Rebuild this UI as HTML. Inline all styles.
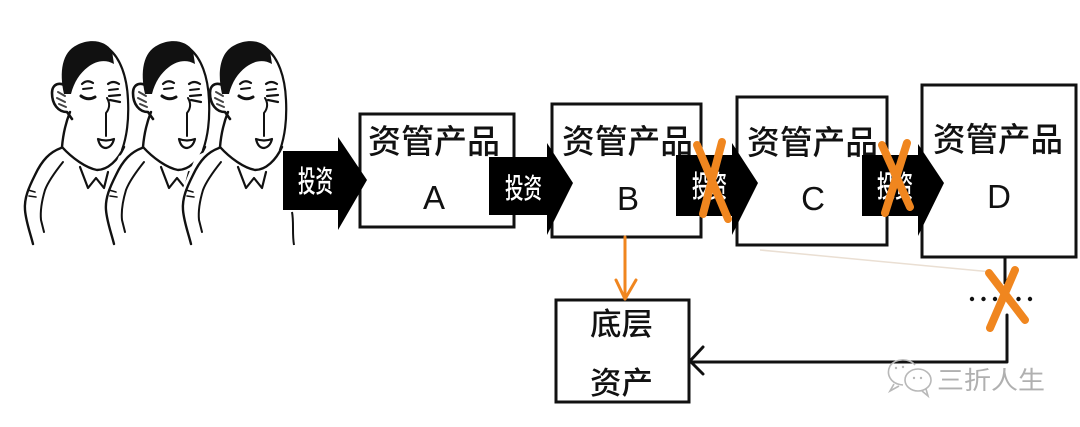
<!DOCTYPE html>
<html>
<head>
<meta charset="utf-8">
<style>
html,body{margin:0;padding:0;background:#fff;}
svg{display:block;}
.cjk{font-family:"Liberation Sans","Noto Sans CJK SC",sans-serif;font-weight:500;}
</style>
</head>
<body>
<svg width="1080" height="427" viewBox="0 0 1080 427" xmlns="http://www.w3.org/2000/svg">
<rect width="1080" height="427" fill="#fff"/>
<defs>
<g id="person">
  <!-- white silhouette -->
  <path d="M53,86 L62,46 L110,40 L130,95 L128,145 L152,160 L152,246 L30,246 L20,200 L38,156 L60,146 Z" fill="#fff"/>
  <!-- hair -->
  <path d="M64,94 C59,72 62,52 77,45 C91,38 106,41 112,51 L114,64 C105,59 96,61 88,67 C80,73 74,82 71,94 Z" fill="#111"/>
  <g fill="none" stroke="#111" stroke-linecap="round" stroke-linejoin="round">
    <!-- head right -->
    <path d="M109,49 C120,58 127,76 128,100 C129,120 127,136 122,150" stroke-width="2.2"/>
    <!-- chin -->
    <path d="M62,147 C72,158 86,168 97,170 C108,170 118,160 124,147" stroke-width="2.4"/>
    <!-- left face behind ear -->
    <path d="M70,112 C66,122 63,135 62,147" stroke-width="2.4"/>
    <!-- ear -->
    <path d="M68,88 C61,81 52,83 52,93 C52,104 58,112 67,112 L72,119" stroke-width="2.6"/>
    <path d="M58,92 L65,96 M57,98 L65,102 M59,104 L66,107" stroke-width="2" stroke="#444"/>
    <!-- left eye -->
    <path d="M82,84 Q87,79 93,83" stroke-width="2.2"/>
    <path d="M83,89 L92,88" stroke-width="2"/>
    <path d="M81,96 Q88,101 95,97" stroke-width="3"/>
    <!-- right eye -->
    <path d="M108,84 Q113,80 119,84" stroke-width="2.2"/>
    <path d="M109,90 L118,89" stroke-width="2"/>
    <path d="M109,96 L120,95 M110,100 L120,102" stroke-width="2.2"/>
    <!-- nose -->
    <path d="M107,98 C110,103 110,108 106,113 L106,136" stroke-width="2"/>
    <!-- mouth -->
    <path d="M98,139 Q100,148 106,148 Q112,147 114,139 Q106,142 98,139 Z" stroke-width="2.2"/>
    <!-- sleeve / arm -->
    <path d="M61,148 C50,152 42,160 35,175 C29,187 24,198 25,210 C26,222 30,232 33,244" stroke-width="2.4"/>
    <path d="M63,162 C55,172 48,182 45,190 C42,200 40,210 41,220 L44,232" stroke-width="2"/>
    <path d="M28,190 L35,192 M29,196 L36,197" stroke-width="1.6"/>
    <!-- collar -->
    <path d="M80,167 L88,188 L96,178 L104,188 L108,172" stroke-width="2.2"/>
  </g>
</g>
</defs>

<!-- people -->
<use href="#person" x="0" y="0"/>
<use href="#person" x="81" y="0"/>
<use href="#person" x="158" y="0"/>
<path d="M292,212 C294,222 292,234 294,245" fill="none" stroke="#111" stroke-width="2"/>

<!-- boxes -->
<g fill="none" stroke="#111" stroke-width="3">
  <rect x="360" y="114" width="154" height="113"/>
  <rect x="552" y="104" width="149" height="133"/>
  <rect x="737" y="97" width="150" height="148"/>
  <rect x="922" y="85" width="154" height="172"/>
  <rect x="556" y="300" width="133" height="102"/>
</g>

<!-- box text -->
<g class="cjk" fill="#111" font-size="33">
  <text x="368" y="153" textLength="132" lengthAdjust="spacingAndGlyphs">资管产品</text>
  <text x="562" y="153" textLength="131" lengthAdjust="spacingAndGlyphs">资管产品</text>
  <text x="747" y="154" textLength="131" lengthAdjust="spacingAndGlyphs">资管产品</text>
  <text x="933" y="151" textLength="130" lengthAdjust="spacingAndGlyphs">资管产品</text>
</g>
<g font-family="'Liberation Sans',sans-serif" fill="#111" font-size="33" text-anchor="middle">
  <text x="434" y="209">A</text>
  <text x="628" y="210">B</text>
  <text x="813" y="210">C</text>
  <text x="999" y="208">D</text>
</g>
<g class="cjk" fill="#111" font-size="31">
  <text x="590" y="335" textLength="63" lengthAdjust="spacingAndGlyphs">底层</text>
  <text x="590" y="394" textLength="63" lengthAdjust="spacingAndGlyphs">资产</text>
</g>

<!-- arrows -->
<g fill="#000">
  <path d="M283,151 H338 V137 L367,180 L338,230 V210 H283 Z"/>
  <path d="M489,157 H547 V143 L573,183 L547,235 V215 H489 Z"/>
  <path d="M676,155 H732 V143 L758,183 L732,235 V216 H676 Z"/>
  <path d="M862,155 H918 V144 L944,183 L918,236 V216 H862 Z"/>
</g>
<g class="cjk" fill="#fff" font-size="30">
  <text x="298" y="192" textLength="35" lengthAdjust="spacingAndGlyphs">投资</text>
  <text x="505" y="198" textLength="37" lengthAdjust="spacingAndGlyphs" font-size="28">投资</text>
  <text x="692" y="197" textLength="35" lengthAdjust="spacingAndGlyphs">投资</text>
  <text x="877" y="197" textLength="36" lengthAdjust="spacingAndGlyphs">投资</text>
</g>

<!-- faint diagonal -->
<path d="M760,250 L992,272" stroke="#eadfd3" stroke-width="1.5" fill="none"/>

<!-- connector from D -->
<g fill="none" stroke="#111" stroke-width="3" stroke-linejoin="round" stroke-linecap="round">
  <path d="M1005,257 V283"/>
  <path d="M1007,315 V362 H690"/>
  <path d="M703,347 L690,361 L703,374"/>
</g>
<g fill="#111">
  <circle cx="972" cy="299" r="2.2"/>
  <circle cx="983.5" cy="299" r="2.2"/>
  <circle cx="995" cy="299" r="2.2"/>
  <circle cx="1007" cy="299" r="2.2"/>
  <circle cx="1018.5" cy="299" r="2.2"/>
  <circle cx="1030" cy="299" r="2.2"/>
</g>

<!-- orange -->
<g fill="none" stroke="#f0861f" stroke-linecap="round" stroke-linejoin="round">
  <path d="M625,237 V299" stroke-width="3"/>
  <path d="M616,280 L625,299 L636,280" stroke-width="3"/>
  <path d="M703,214 L722,142" stroke-width="8"/>
  <path d="M697,145 L728,219" stroke-width="8"/>
  <path d="M885,213 L907,143" stroke-width="8"/>
  <path d="M882,145 L910,207" stroke-width="8"/>
  <path d="M990,328 L1015,270" stroke-width="8"/>
  <path d="M989,273 L1025,320" stroke-width="8"/>
</g>

<!-- watermark -->
<g fill="none" stroke="#b8b8b8" stroke-width="1.6">
  <path d="M903,385 C890,384 886,374 890,366 C895,358 910,358 915,365"/>
  <path d="M894,384 L890,391 L899,386"/>
  <ellipse cx="918" cy="380" rx="13" ry="11"/>
  <path d="M922,391 L928,396 L926,389"/>
</g>
<g fill="#b8b8b8">
  <circle cx="896" cy="368" r="1.2"/><circle cx="903" cy="367" r="1.2"/>
  <circle cx="914" cy="378" r="1.2"/><circle cx="921" cy="378" r="1.2"/>
</g>
<text x="937" y="389" font-family="'Liberation Sans','Noto Sans CJK SC',sans-serif" font-size="25" fill="#b0b0b0" textLength="108" lengthAdjust="spacingAndGlyphs">三折人生</text>
</svg>
</body>
</html>
